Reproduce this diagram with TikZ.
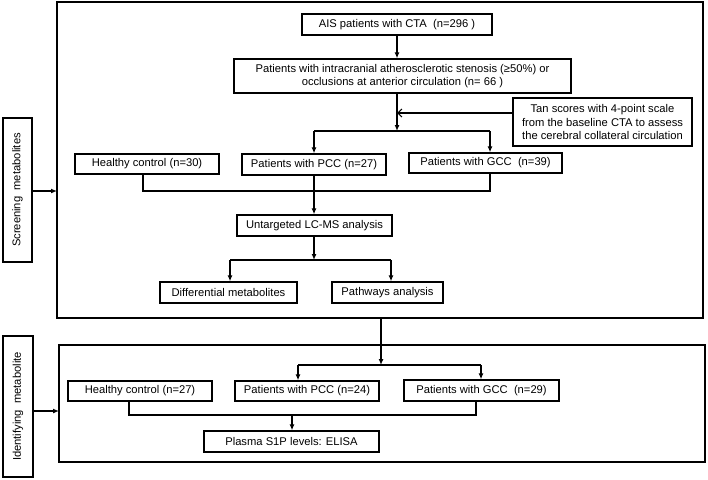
\documentclass[tikz,border=0pt]{standalone}
\usepackage{fontspec}
\setmainfont{Liberation Sans}
\usetikzlibrary{arrows.meta}
\begin{document}
\begin{tikzpicture}[x=1pt,y=-1pt,
  box/.style={draw, line width=1.3pt, inner sep=0pt, align=center, font=\fontsize{11.2}{13.6}\selectfont},
  frame/.style={draw, line width=1.3pt},
  conn/.style={line width=1.2pt},
  arr/.style={line width=1.2pt, -{Latex[length=6pt,width=5pt]}},
  barb/.style={line width=1.2pt, -{Straight Barb[length=4pt,width=8pt]}}]
\useasboundingbox (0,0) rectangle (708,479);
% frames
\draw[frame] (57,2) rectangle (703,318);
\draw[frame] (59,345) rectangle (705,462);
\coordinate (scrW) at (57,191);
\coordinate (idW) at (59,411);
\node[box, rotate=90, minimum width=144pt, minimum height=29pt] (lab1) at (17.5,190) {Screening\ \ metabolites};
\node[box, rotate=90, minimum width=141pt, minimum height=30pt] (lab2) at (18,406.5) {Identifying\ \ metabolite};
% nodes
\node[box, minimum width=190pt, minimum height=21pt] (ais) at (397,24.5) {AIS patients with CTA\ \ (n=296 )};
\node[box, minimum width=337pt, minimum height=34pt] (intr) at (402.5,76) {Patients with intracranial atherosclerotic stenosis (≥50\%) or\\occlusions at anterior circulation (n= 66 )};
\node[box, minimum width=179pt, minimum height=48pt] (tan) at (602.5,122) {Tan scores with 4-point scale\\from the baseline CTA to assess\\the cerebral collateral circulation};
\node[box, minimum width=144pt, minimum height=20pt] (hc1) at (147,164) {Healthy control (n=30)};
\node[box, minimum width=144pt, minimum height=21pt] (pcc1) at (314,164.5) {Patients with PCC (n=27)};
\node[box, minimum width=153pt, minimum height=20pt] (gcc1) at (485.5,163) {Patients with GCC\ \ (n=39)};
\node[box, minimum width=155pt, minimum height=21pt] (unt) at (314.5,225.5) {Untargeted LC-MS analysis};
\node[box, minimum width=137pt, minimum height=21pt] (diff) at (228.5,292.5) {Differential metabolites};
\node[box, minimum width=111pt, minimum height=21pt] (path) at (387.5,292.5) {Pathways analysis};
\node[box, minimum width=144pt, minimum height=20pt] (hc2) at (140,391) {Healthy control (n=27)};
\node[box, minimum width=144pt, minimum height=20pt] (pcc2) at (307,391) {Patients with PCC (n=24)};
\node[box, minimum width=155pt, minimum height=21pt] (gcc2) at (481.5,390.5) {Patients with GCC\ \ (n=29)};
\node[box, minimum width=175pt, minimum height=21pt] (pla) at (291.5,441.5) {Plasma S1P levels: ELISA};
% label arrows
\draw[arr] (lab1.south |- scrW) -- (scrW);
\draw[arr] (lab2.south |- idW) -- (idW);
% coordinates
\coordinate (j1) at (397,131);
\coordinate (j1l) at (314,131);
\coordinate (j1r) at (490,131);
\coordinate (m1) at (143,191);
\coordinate (m1r) at (490,191);
\coordinate (j2) at (314,260);
\coordinate (j2l) at (230,260);
\coordinate (j2r) at (391,260);
\coordinate (s1) at (381,318);
\coordinate (j3) at (381,365);
\coordinate (j3l) at (298,365);
\coordinate (j3r) at (481,365);
\coordinate (m2) at (129,415);
\coordinate (m2r) at (476,415);
\coordinate (m2c) at (292,415);
% screening connectors
\draw[arr] (ais.south) -- (ais.south |- intr.north);
\draw[arr] (j1 |- intr.south) -- (j1);
\draw[barb] (tan.west |- 0,113) -- (j1 |- 0,113);
\draw[conn] (j1l) -- (j1r);
\draw[arr] (j1l) -- (j1l |- pcc1.north);
\draw[arr] (j1r) -- (j1r |- gcc1.north);
\draw[conn] (m1 |- hc1.south) -- (m1) -- (m1r) -- (m1r |- gcc1.south);
\draw[arr] (pcc1.south) -- (pcc1.south |- unt.north);
\draw[arr] (j2 |- unt.south) -- (j2);
\draw[conn] (j2l) -- (j2r);
\draw[arr] (j2l) -- (j2l |- diff.north);
\draw[arr] (j2r) -- (j2r |- path.north);
% identifying connectors
\draw[arr] (s1) -- (j3);
\draw[conn] (j3l) -- (j3r);
\draw[arr] (j3l) -- (j3l |- pcc2.north);
\draw[arr] (j3r) -- (j3r |- gcc2.north);
\draw[conn] (m2 |- hc2.south) -- (m2) -- (m2r) -- (m2r |- gcc2.south);
\draw[arr] (m2c) -- (m2c |- pla.north);
\end{tikzpicture}
\end{document}
